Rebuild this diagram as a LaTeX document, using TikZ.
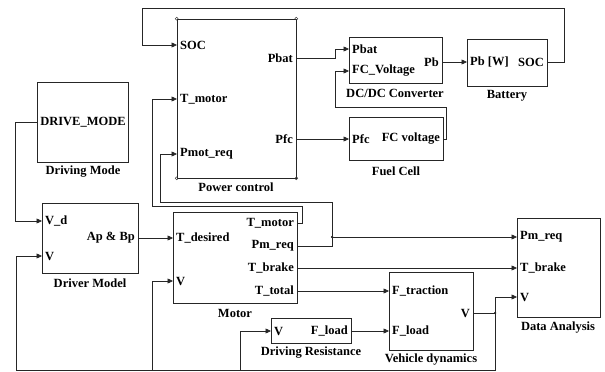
\documentclass[tikz,border=0pt]{standalone}
\usepackage{fontspec}
\setmainfont{Liberation Serif}
\newfontfamily\diagfont{Liberation Serif}
\usetikzlibrary{arrows.meta,fit}
\begin{document}
\begin{tikzpicture}[x=1pt,y=-1pt,
  every node/.style={font=\diagfont\fontsize{12.5}{14}\selectfont\bfseries, inner sep=1pt},
  blk/.style={draw=black!85, line width=0.7pt, inner sep=0pt},
  wire/.style={draw=black!85, line width=0.6pt},
  arr/.style={wire, -{Triangle[length=5.5pt,width=5pt]}},
  portin/.style={anchor=west},
  portout/.style={anchor=east},
  blkcap/.style={anchor=center},
  jdot/.style={circle, fill=black, inner sep=0pt, minimum size=2.5pt},
  hnd/.style={circle, draw=black!80, line width=0.4pt, inner sep=0pt, minimum size=3pt}]
\useasboundingbox (0,0) rectangle (605,372);

% ---------- blocks ----------
\node[blk, fit={(37,82) (128,162)}] (dm) {};
\node[blk, fit={(177,19) (296,178)}] (pc) {};
\node[blk, fit={(349,37) (442,83)}] (dc) {};
\node[blk, fit={(467,39) (547,86)}] (bat) {};
\node[blk, fit={(349,117) (443,160)}] (fc) {};
\node[blk, fit={(42,203) (138,273)}] (drv) {};
\node[blk, fit={(173,212) (297,303)}] (mot) {};
\node[blk, fit={(271,318) (351,343)}] (dr) {};
\node[blk, fit={(389,272) (473,350)}] (vd) {};
\node[blk, fit={(517,218) (600,317)}] (da) {};

% selection handles on Power control
\foreach \c in {north west, north east, south west, south east}
  \node[hnd] at (pc.\c) {};

% ---------- captions ----------
\node[blkcap] (dmcap) at (83,172) {Driving Mode};
\node[blkcap] (pccap) at (236,187) {Power control};
\node[blkcap] (dccap) at (395,93) {DC/DC Converter};
\node[blkcap] (batcap) at (507,96) {Battery};
\node[blkcap] (fccap) at (396,171) {Fuel Cell};
\node[blkcap] (drvcap) at (90,283) {Driver Model};
\node[blkcap] (motcap) at (235,313) {Motor};
\node[blkcap] (drcap) at (311,353) {Driving Resistance};
\node[blkcap] (vdcap) at (431,360) {Vehicle dynamics};
\node[blkcap] (dacap) at (558,328) {Data Analysis};

\node (dmtxt) at (83,122) {DRIVE\_MODE};

% ---------- ports ----------
% Power control
\coordinate (pc-soc) at (177,45);
\coordinate (pc-tm) at (177,99);
\coordinate (pc-pm) at (177,154);
\coordinate (pc-pbat) at (296,58);
\coordinate (pc-pfc) at (296,139);
\node[portin] (pcsocl) at (179,45) {SOC};
\node[portin] (pctml) at (179,99) {T\_motor};
\node[portin] (pcpml) at (179,154) {Pmot\_req};
\node[portout] (pcpbatl) at (294,58) {Pbat};
\node[portout] (pcpfcl) at (294,139) {Pfc};
% DC/DC
\coordinate (dc-pbat) at (349,49);
\coordinate (dc-fcv) at (349,71);
\coordinate (dc-pb) at (442,62);
\node[portin] (dcpbatl) at (351,49) {Pbat};
\node[portin] (dcfcvl) at (351,71) {FC\_Voltage};
\node[portout] (dcpbl) at (440,62) {Pb};
% Battery
\coordinate (bat-pb) at (467,62);
\coordinate (bat-soc) at (547,62);
\node[portin] (batpbl) at (469,62) {Pb [W]};
\node[portout] (batsocl) at (545,62) {SOC};
% Fuel cell
\coordinate (fc-pfc) at (349,139);
\coordinate (fc-fcv) at (443,139);
\node[portin] (fcpfcl) at (351,139) {Pfc};
\node[portout] (fcfcvl) at (441,139) {FC voltage};
% Driver model
\coordinate (drv-vd) at (42,221);
\coordinate (drv-v) at (42,256);
\coordinate (drv-ap) at (138,238);
\node[portin] (drvvdl) at (44,221) {V\_d};
\node[portin] (drvvl) at (44,256) {V};
\node[portout] (drvapl) at (136,238) {Ap \& Bp};
% Motor
\coordinate (mot-td) at (173,238);
\coordinate (mot-v) at (173,281);
\coordinate (mot-tm) at (297,223);
\coordinate (mot-pm) at (297,246);
\coordinate (mot-tb) at (297,268);
\coordinate (mot-tt) at (297,291);
\node[portin] (mottdl) at (175,238) {T\_desired};
\node[portin] (motvl) at (175,281) {V};
\node[portout] (mottml) at (295,223) {T\_motor};
\node[portout] (motpml) at (295,246) {Pm\_req};
\node[portout] (mottbl) at (295,268) {T\_brake};
\node[portout] (mottt) at (295,291) {T\_total};
% Driving resistance
\coordinate (dr-v) at (271,331);
\coordinate (dr-fl) at (351,331);
\node[portin] (drvl) at (273,331) {V};
\node[portout] (drfll) at (349,331) {F\_load};
% Vehicle dynamics
\coordinate (vd-ft) at (389,291);
\coordinate (vd-fl) at (389,331);
\coordinate (vd-v) at (473,313);
\node[portin] (vdftl) at (391,291) {F\_traction};
\node[portin] (vdfll) at (391,331) {F\_load};
\node[portout] (vdvl) at (471,313) {V};
% Data analysis
\coordinate (da-pm) at (517,237);
\coordinate (da-tb) at (517,268);
\coordinate (da-v) at (517,297);
\node[portin] (dapml) at (519,237) {Pm\_req};
\node[portin] (datbl) at (519,268) {T\_brake};
\node[portin] (davl) at (519,297) {V};

% ---------- junctions ----------
\coordinate (jpm) at (332,237);
\coordinate (jv) at (495,313);
\coordinate (jvdr) at (240,370);
\coordinate (jvmot) at (152,370);
\node[jdot] at (jpm) {};
\node[jdot] at (jv) {};

% ---------- connectors ----------
\draw[arr] (dm.west |- dmtxt) -- (15,122) |- (drv-vd);
\draw[arr] (drv-ap) -- (mot-td);
\draw[arr] (mot-tm) -- (302,223) -- (302,206) -- (152,206) |- (pc-tm);
\draw[arr] (mot-pm) -- (332,246) -- (332,202) -- (160,202) |- (pc-pm);
\draw[arr] (jpm) -- (da-pm);
\draw[arr] (mot-tb) -- (da-tb);
\draw[arr] (mot-tt) -- (vd-ft);
\draw[arr] (dr-fl) -- (vd-fl);
\draw[wire] (vd-v) -- (jv);
\draw[arr] (jv) |- (da-v);
\draw[arr] (jv) -- (495,370) -- (16,370) |- (drv-v);
\draw[arr] (jvdr) |- (dr-v);
\draw[arr] (jvmot) |- (mot-v);
\draw[arr] (bat-soc) -- (564,62) -- (564,8) -- (142,8) |- (pc-soc);
\draw[arr] (pc-pbat) -- (335,58) |- (dc-pbat);
\draw[arr] (dc-pb) -- (bat-pb);
\draw[arr] (fc-fcv) -- (446,139) -- (446,107) -- (335,107) |- (dc-fcv);
\draw[arr] (pc-pfc) -- (fc-pfc);
\end{tikzpicture}
\end{document}
